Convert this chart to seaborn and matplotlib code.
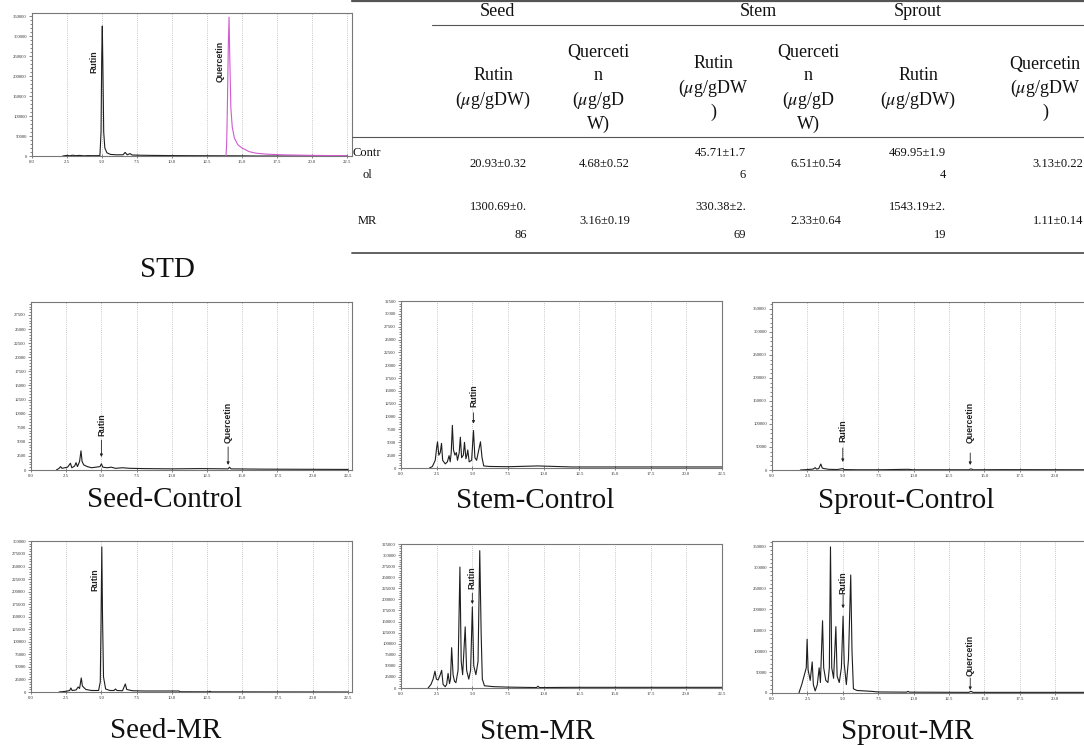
"""HPLC chromatograms (STD, seed/stem/sprout, control vs MR) plus rutin/quercetin table."""
import matplotlib

matplotlib.use("Agg")
import matplotlib.pyplot as plt
from matplotlib.lines import Line2D
from matplotlib.ticker import MultipleLocator, FixedLocator, FuncFormatter
import seaborn as sns

sns.set_theme(style="white")
plt.rcParams["font.family"] = ["Liberation Serif", "DejaVu Serif"]
plt.rcParams["mathtext.fontset"] = "stix"

W, H = 1084, 745

# --- chromatogram traces: retention time (min) / detector response ---
std_t = [2.2, 2.5, 2.7, 2.9, 3.1, 3.4, 3.7, 4.0, 4.4, 4.85, 4.93, 4.98, 5.02, 5.07,
         5.12, 5.2, 5.35, 5.6, 6.0, 6.5, 6.65, 6.8, 7.0, 7.15, 7.6, 8.5, 10.0, 13.5,
         14.5, 16.0, 22.5]
std_y = [0, 1500, 500, 2000, 800, 1500, 500, 1000, 800, 1000, 60000, 250000, 325000,
         200000, 60000, 20000, 8000, 4000, 3000, 3000, 9000, 3000, 6000, 2500, 2000,
         1500, 1000, 500, 500, 0, 0]
std_q_t = [13.85, 13.9, 13.95, 14.02, 14.07, 14.12, 14.2, 14.3, 14.45, 14.7, 15.0,
           15.5, 16.0, 16.8, 18.0, 19.0, 20.0, 21.0, 22.5]
std_q_y = [0, 30000, 120000, 280000, 347000, 250000, 120000, 72000, 45000, 28000,
           20000, 11000, 7000, 4500, 2800, 2200, 1600, 1200, 900]

seed_c_t = [1.8, 2.0, 2.1, 2.2, 2.6, 2.8, 2.9, 3.1, 3.2, 3.3, 3.45, 3.55, 3.63, 3.75,
            4.0, 4.3, 4.6, 4.9, 5.0, 5.1, 5.4, 5.7, 6.0, 6.5, 7.0, 8.0, 10.0, 12.0,
            14.0, 14.1, 14.2, 16.5, 22.5]
seed_c_y = [0, 300, 600, 300, 500, 1200, 400, 700, 1300, 600, 1500, 3400, 1500, 900,
            600, 400, 500, 600, 1100, 500, 400, 500, 300, 400, 300, 250, 200, 250,
            200, 500, 200, 150, 100]

stem_c_t = [2.0, 2.2, 2.4, 2.5, 2.56, 2.65, 2.75, 2.84, 2.92, 3.1, 3.25, 3.37, 3.45,
            3.52, 3.6, 3.68, 3.78, 3.88, 3.96, 4.08, 4.16, 4.25, 4.37, 4.45, 4.55,
            4.62, 4.68, 4.78, 4.95, 5.08, 5.18, 5.3, 5.45, 5.57, 5.68, 5.8, 6.2, 7.5,
            9.6, 12.0, 22.5]
stem_c_y = [0, 300, 1500, 4000, 5100, 2500, 3000, 4800, 1500, 800, 1200, 2400, 1200,
            3000, 8300, 3500, 2500, 3000, 1500, 3000, 6000, 2000, 2500, 5000, 1800,
            2500, 3500, 1200, 1500, 7300, 2000, 1500, 3500, 5100, 2000, 400, 300, 250,
            400, 200, 200]

sprout_c_t = [2.0, 2.5, 2.9, 3.05, 3.15, 3.3, 3.45, 3.55, 3.7, 4.0, 4.6, 5.0, 5.1,
              6.0, 7.5, 9.6, 10.0, 13.9, 14.05, 14.2, 16.5, 22.6]
sprout_c_y = [0, 1000, 2000, 5000, 2000, 3000, 13000, 4000, 3000, 1500, 1000, 3000,
              1000, 500, 500, 1500, 500, 500, 2500, 500, 800, 500]

seed_m_t = [2.0, 2.5, 2.75, 2.83, 2.92, 3.2, 3.35, 3.45, 3.57, 3.65, 3.75, 3.9, 4.3,
            4.8, 4.92, 4.97, 5.03, 5.08, 5.15, 5.3, 5.6, 5.9, 6.0, 6.1, 6.5, 6.7, 6.8,
            7.2, 8.0, 10.5, 10.6, 12.6, 12.7, 12.8, 22.5]
seed_m_y = [0, 1500, 3000, 8000, 3000, 4000, 10000, 7000, 28000, 12000, 9000, 5000,
            3000, 3000, 20000, 130000, 289000, 150000, 30000, 6000, 3000, 3000, 6000,
            3000, 2500, 16000, 5000, 2500, 2000, 2000, 500, 300, 1500, 300, 0]

stem_m_t = [1.9, 2.1, 2.25, 2.38, 2.48, 2.6, 2.75, 2.85, 2.95, 3.1, 3.2, 3.3, 3.4,
            3.47, 3.55, 3.65, 3.75, 3.85, 4.0, 4.13, 4.22, 4.32, 4.5, 4.6, 4.75, 4.88,
            5.0, 5.1, 5.25, 5.4, 5.52, 5.62, 5.7, 5.85, 6.5, 7.5, 9.5, 9.6, 9.7, 12.0,
            22.5]
stem_m_y = [0, 8000, 20000, 38000, 20000, 18000, 30000, 40000, 8000, 3000, 8000,
            33000, 10000, 20000, 91000, 30000, 15000, 12000, 40000, 273000, 60000,
            30000, 138000, 40000, 20000, 40000, 183000, 50000, 30000, 60000, 310000,
            120000, 20000, 5000, 3000, 2000, 1000, 4000, 1000, 1500, 1500]

sprout_m_t = [1.9, 2.1, 2.3, 2.42, 2.48, 2.55, 2.7, 2.84, 2.92, 3.05, 3.2, 3.33, 3.42,
              3.57, 3.65, 3.8, 3.95, 4.05, 4.13, 4.22, 4.35, 4.51, 4.6, 4.75, 4.9,
              5.02, 5.1, 5.25, 5.4, 5.56, 5.65, 5.75, 6.0, 7.0, 7.5, 9.5, 9.6, 9.7,
              13.9, 14.05, 14.2, 22.6]
sprout_m_y = [0, 20000, 45000, 60000, 128000, 55000, 30000, 74000, 20000, 5000,
              20000, 60000, 25000, 172000, 60000, 30000, 25000, 60000, 348000, 60000,
              35000, 158000, 40000, 25000, 60000, 183000, 70000, 20000, 80000, 281000,
              100000, 10000, 6000, 4000, 2500, 2000, 4000, 2000, 1500, 4000, 1500,
              1500]

# retention-time tick labels (the sprout panels run off the right edge)
rt_ticks = [0.0, 2.5, 5.0, 7.5, 10.0, 12.5, 15.0, 17.5, 20.0, 22.5]

# --- table ---
groups = ["Seed", "Stem", "Sprout"]
mu = r"($\mu$g/gDW"
col_heads = [["Rutin", mu + ")"],
             ["Querceti", "n", r"($\mu$g/gD", "W)"],
             ["Rutin", mu, ")"],
             ["Querceti", "n", r"($\mu$g/gD", "W)"],
             ["Rutin", mu + ")"],
             ["Quercetin", mu, ")"]]
row_names = [["Contr", "ol"], ["MR"]]
control_vals = [["20.93±0.32"], ["4.68±0.52"], ["45.71±1.7", "6"], ["6.51±0.54"],
                ["469.95±1.9", "4"], ["3.13±0.22"]]
mr_vals = [["1300.69±0.", "86"], ["3.16±0.19"], ["330.38±2.", "69"], ["2.33±0.64"],
           ["1543.19±2.", "19"], ["1.11±0.14"]]

fig = plt.figure(figsize=(W / 100, H / 100), dpi=100)


def fx(x):
    return x / W


def fy(y):
    return 1 - y / H


def chrom(box, xmax, ymax, ystep, traces, tags, last_tick=22.5):
    x0, y0, x1, y1 = box
    ax = fig.add_axes([fx(x0), fy(y1), fx(x1 - x0), (y1 - y0) / H])
    for t, y, c in traces:
        sns.lineplot(x=t, y=y, ax=ax, color=c, lw=0.8, estimator=None, sort=False)
    ax.set_xlim(0, xmax)
    ax.set_ylim(0, ymax)
    ax.xaxis.set_major_locator(FixedLocator([v for v in rt_ticks if v <= last_tick]))
    ax.xaxis.set_minor_locator(MultipleLocator(0.25))
    ax.yaxis.set_major_locator(MultipleLocator(ystep))
    ax.yaxis.set_minor_locator(MultipleLocator(ystep / 5))
    ax.xaxis.set_major_formatter(FuncFormatter(lambda v, p: f"{v:.1f}"))
    ax.yaxis.set_major_formatter(FuncFormatter(lambda v, p: f"{v:.0f}"))
    ax.grid(axis="x", ls=(0, (1, 1.5)), color="#b8b8b8", lw=0.6)
    for s in ax.spines.values():
        s.set_color("#777")
        s.set_linewidth(0.8)
    ax.tick_params(which="both", labelsize=3.4, labelcolor="#333", color="#555",
                   width=0.5, pad=1.2)
    ax.tick_params(axis="x", which="major", direction="inout", length=3)
    ax.tick_params(axis="x", which="minor", direction="inout", length=1.6)
    ax.tick_params(axis="y", which="major", direction="out", length=2.5, left=True)
    ax.tick_params(axis="y", which="minor", direction="out", length=1.3, left=True)
    ax.tick_params(axis="x", bottom=True)
    ax.set_xlabel("")
    ax.set_ylabel("")
    for text, t, yt, ya, yb in tags:
        ax.text(t, yt, text, rotation=90, ha="center", va="center",
                family=["Liberation Sans", "DejaVu Sans"], weight="bold",
                fontsize=6.3, color="#222")
        if ya is not None:
            ax.annotate("", xy=(t, yb), xytext=(t, ya),
                        arrowprops=dict(arrowstyle="-|>", lw=0.6, color="#222",
                                        mutation_scale=4, shrinkA=0, shrinkB=0))
    return ax


ink = "#1e1e1e"
chrom((32, 13, 352, 156), 22.85, 357500, 50000,
      [(std_t, std_y, ink), (std_q_t, std_q_y, "#d05ad0")],
      [("Rutin", 4.43, 235000, None, None), ("Quercetin", 13.43, 237500, None, None)])
chrom((31, 302, 352, 470), 22.8, 29800, 2500,
      [(seed_c_t, seed_c_y, ink)],
      [("Rutin", 5.0, 8000, 5300, 2300), ("Quercetin", 14.0, 8500, 4100, 900)])
chrom((401, 301, 722, 468), 22.5, 32500, 2500,
      [(stem_c_t, stem_c_y, ink)],
      [("Rutin", 5.08, 14000, 10750, 8640)])
chrom((772, 302, 1092, 470), 22.6, 365000, 50000,
      [(sprout_c_t, sprout_c_y, ink)],
      [("Rutin", 5.0, 85000, 47800, 17400), ("Quercetin", 14.0, 104000, 37000, 10900)],
      last_tick=20.0)
chrom((31, 541, 352, 692), 22.8, 300800, 25000,
      [(seed_m_t, seed_m_y, ink)],
      [("Rutin", 4.57, 223000, None, None)])
chrom((401, 544, 722, 688), 22.5, 325000, 25000,
      [(stem_m_t, stem_m_y, ink)],
      [("Rutin", 5.0, 248000, 214000, 189500)])
chrom((772, 541, 1092, 693), 22.6, 362000, 50000,
      [(sprout_m_t, sprout_m_y, ink)],
      [("Rutin", 5.02, 262000, 233000, 202000), ("Quercetin", 14.0, 90000, 35700, 7100)],
      last_tick=20.0)

# panel titles
title_kw = dict(ha="center", va="center", fontsize=21, color="#111")
for txt, x, y in [("STD", 167, 270), ("Seed-Control", 165, 500), ("Stem-Control", 535, 501),
                  ("Sprout-Control", 906, 501), ("Seed-MR", 166, 731),
                  ("Stem-MR", 537, 732), ("Sprout-MR", 907, 732)]:
    fig.text(fx(x), fy(y), txt, **title_kw)


def rule(x0, x1, y, lw):
    fig.add_artist(Line2D([fx(x0), fx(x1)], [fy(y), fy(y)], transform=fig.transFigure,
                          color="#555", lw=lw))


rule(352, 1084, 1, 1.6)
rule(432, 1084, 25, 0.8)
rule(352, 1084, 137, 0.8)
rule(352, 1084, 253, 1.3)

head_kw = dict(ha="center", va="center", fontsize=13, color="#111")
for g, x in zip(groups, [497, 758, 918]):
    fig.text(fx(x), fy(12), g, **head_kw)

col_centers = [493, 598, 713, 808, 918, 1045]
col_rights = [527, 630, 746, 841, 946, 1083]
line_gap = 24
head_mid = 88
for lines, x in zip(col_heads, col_centers):
    top = head_mid - line_gap * (len(lines) - 1) / 2
    for i, s in enumerate(lines):
        fig.text(fx(x), fy(top + i * line_gap), s, **head_kw)

cell_kw = dict(va="center", fontsize=9, color="#111")
row_mids = [164, 221]
row_gap = [22, 28]
for names, vals, ym, gap in zip(row_names, [control_vals, mr_vals], row_mids, row_gap):
    top = ym - gap * (len(names) - 1) / 2
    for i, s in enumerate(names):
        fig.text(fx(367), fy(top + i * gap), s, ha="center", **cell_kw)
    for lines, xr in zip(vals, col_rights):
        top = ym - gap * (len(lines) - 1) / 2
        for i, s in enumerate(lines):
            fig.text(fx(xr), fy(top + i * gap), s, ha="right", **cell_kw)

fig.savefig("out.png", dpi=100)
plt.close(fig)
